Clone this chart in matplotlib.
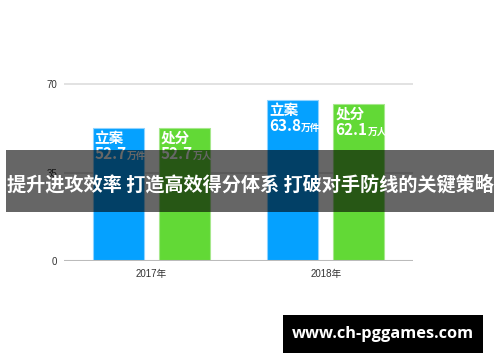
import matplotlib
matplotlib.use('Agg')
import matplotlib.pyplot as plt
from matplotlib.patches import Rectangle
import numpy as np

years = ['2017年', '2018年']
cases = [52.7, 63.8]        # 立案, 万件
penalties = [52.7, 62.1]    # 处分, 万人
yticks = [0, 35, 70]
title = '提升进攻效率 打造高效得分体系 打破对手防线的关键策略'
site = 'www.ch-pggames.com'

BLUE = '#05a1ff'
GREEN = '#62d936'
CJK = 'Noto Sans CJK SC'

fig = plt.figure(figsize=(5, 3.62), dpi=100)
ax = fig.add_axes([0.128, 0.279, 0.698, 0.5028])

x = np.arange(len(years))
w = 0.293
off = 0.19
bars1 = ax.bar(x - off, cases, w, color=BLUE, edgecolor='#8fd3ff', linewidth=0.8, zorder=2)
bars2 = ax.bar(x + off, penalties, w, color=GREEN, edgecolor='#a6e88c', linewidth=0.8, zorder=2)

ax.set_xlim(-0.5, 1.5)
ax.set_ylim(0, 72)
ax.set_yticks(yticks)
ax.set_xticks(x, years)
ax.tick_params(length=0, labelsize=7, colors='#333333')
ax.tick_params(axis='x', pad=6)
ax.tick_params(axis='y', pad=5)
for lab in ax.get_xticklabels() + ax.get_yticklabels():
    lab.set_family(['Liberation Sans', CJK])
ax.grid(axis='y', color='#dddddd', lw=1.2)
ax.set_axisbelow(True)
ax.axhline(0, color='#bbbbbb', lw=1.5, zorder=3)
for s in ax.spines.values():
    s.set_visible(False)

# labels inside the bars
nums = []
for bars, vals, name, unit in [(bars1, cases, '立案', '万件'), (bars2, penalties, '处分', '万人')]:
    for b, v in zip(bars, vals):
        xy = (b.get_x(), b.get_height())
        ax.annotate(name, xy, xytext=(1.5, -7.2), textcoords='offset points',
                    ha='left', va='center', color='white', fontsize=10.5,
                    family=CJK, fontweight='bold', zorder=4)
        t = ax.annotate('%.1f' % v, xy, xytext=(1.5, -22.6), textcoords='offset points',
                        ha='left', va='baseline', color='white', fontsize=11,
                        family=CJK, fontweight='bold', zorder=4)
        nums.append((t, xy, unit))

fig.canvas.draw()
r = fig.canvas.get_renderer()
for t, xy, unit in nums:
    wpt = t.get_window_extent(r).width * 72 / fig.dpi
    ax.annotate(unit, xy, xytext=(1.5 + wpt, -22.6), textcoords='offset points',
                ha='left', va='baseline', color='white', fontsize=7,
                family=CJK, fontweight='bold', zorder=4)

# dark banner with headline
fig.add_artist(Rectangle((0.012, 0.4144), 0.976, 0.1712, transform=fig.transFigure,
                         facecolor='black', alpha=0.6, lw=0, zorder=5))
fig.text(0.5, 0.489, title, ha='center', va='center', color='white', fontsize=13.8,
         fontweight='bold', family=CJK, zorder=6)

# watermark
fig.add_artist(Rectangle((0.566, 0.0249), 0.4, 0.105, transform=fig.transFigure,
                         facecolor='black', lw=0, zorder=5))
fig.text(0.766, 0.0773, site, ha='center', va='center', color='white', fontsize=11.8,
         fontweight='bold', family=['Open Sans', 'DejaVu Sans'], zorder=6)

fig.savefig('out.png', dpi=100)
